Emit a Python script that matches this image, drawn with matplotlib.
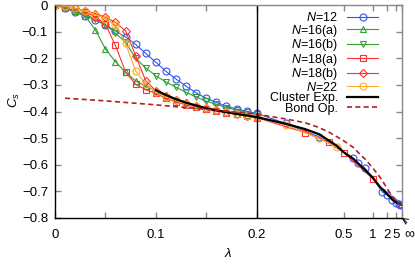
import numpy as np
import matplotlib
matplotlib.use("Agg")
from matplotlib import pyplot as plt

plt.rcParams["font.family"] = ["Liberation Sans", "DejaVu Sans"]
plt.rcParams["font.size"] = 9.5
plt.rcParams["mathtext.fontset"] = "custom"
plt.rcParams["mathtext.rm"] = "Liberation Sans"
plt.rcParams["mathtext.it"] = "Liberation Sans:italic"

LAM_INF = 1e6  # stands in for lambda = infinity

# N=12
lam_n12 = [0, 0.01, 0.02, 0.03, 0.04, 0.05, 0.06, 0.07, 0.08, 0.09, 0.10,
           0.11, 0.12, 0.13, 0.14, 0.15, 0.16, 0.17, 0.18, 0.19, 0.20,
           0.25, 0.35, 0.6, 0.67, 0.8, 1.5, 2, 3, 5, 10, 20, LAM_INF]
cs_n12 = [0, -0.012, -0.027, -0.041, -0.056, -0.075, -0.097, -0.120, -0.148,
          -0.182, -0.215, -0.249, -0.278, -0.305, -0.330, -0.350, -0.366,
          -0.380, -0.391, -0.399, -0.407,
          -0.445, -0.495, -0.576, -0.595, -0.614, -0.702, -0.714, -0.733,
          -0.744, -0.749, -0.751, -0.752]

lam_left = [0, 0.01, 0.02, 0.03, 0.04, 0.05, 0.06, 0.07, 0.08, 0.09, 0.10,
            0.11, 0.12, 0.13, 0.14, 0.15, 0.16, 0.17, 0.18, 0.19, 0.20]

# N=16(a)
cs_n16a = [0, -0.010, -0.022, -0.042, -0.093, -0.165, -0.213, -0.253, -0.285,
           -0.305, -0.322, -0.338, -0.352, -0.365, -0.376, -0.386, -0.394,
           -0.401, -0.408, -0.414, -0.420]
# N=16(b)
cs_n16b = [0, -0.010, -0.022, -0.036, -0.052, -0.075, -0.106, -0.140, -0.200,
           -0.236, -0.266, -0.289, -0.309, -0.328, -0.346, -0.361, -0.373,
           -0.385, -0.395, -0.403, -0.411]

# N=18(a)
lam_n18a = lam_left + [0.3, 0.4, 0.5, 1.0]
cs_n18a = [0, -0.004, -0.012, -0.025, -0.045, -0.072, -0.152, -0.252, -0.298,
           -0.318, -0.332, -0.350, -0.363, -0.375, -0.383, -0.390, -0.397,
           -0.404, -0.410, -0.416, -0.423,
           -0.479, -0.516, -0.554, -0.652]
# N=18(b)
cs_n18b = [0, -0.005, -0.013, -0.022, -0.032, -0.046, -0.065, -0.097, -0.190,
           -0.285, -0.322, -0.340, -0.355, -0.367, -0.378, -0.387, -0.395,
           -0.402, -0.409, -0.415, -0.421]

# N=22
lam_n22 = lam_left + [0.25, 0.35, 0.45]
cs_n22 = [0, -0.005, -0.013, -0.023, -0.036, -0.052, -0.075, -0.144, -0.248,
          -0.298, -0.325, -0.344, -0.358, -0.370, -0.380, -0.388, -0.396,
          -0.403, -0.409, -0.415, -0.421,
          -0.450, -0.501, -0.535]

# cluster expansion
lam_clu = [0.10, 0.11, 0.12, 0.13, 0.14, 0.15, 0.16, 0.18, 0.20, 0.25, 0.3,
           0.35, 0.4, 0.45, 0.5, 0.6, 0.76, 1.0, 1.33, 2, 3.4, 10, LAM_INF]
cs_clu = [-0.320, -0.338, -0.354, -0.367, -0.378, -0.388, -0.396, -0.409,
          -0.421, -0.446, -0.466, -0.485, -0.510, -0.530, -0.553, -0.578,
          -0.614, -0.648, -0.683, -0.710, -0.733, -0.747, -0.750]

# bond operator
lam_bond = [0.01, 0.05, 0.10, 0.15, 0.20, 0.25, 0.3, 0.35, 0.4, 0.5, 0.6,
            0.7, 0.8, 1.0, 1.3, 1.5, 2, 3, 5, 10, LAM_INF]
cs_bond = [-0.350, -0.360, -0.375, -0.392, -0.410, -0.428, -0.442, -0.460,
           -0.478, -0.510, -0.535, -0.562, -0.580, -0.612, -0.644, -0.660,
           -0.690, -0.718, -0.738, -0.748, -0.752]

x_ticks = [0, 0.1, 0.2, 0.5, 1, 2, 5, LAM_INF]
x_ticklabels = ["0", "0.1", "0.2", "0.5", "1", "2", "5", ""]
x_minor = [0.05, 0.15]
y_ticks = [0, -0.1, -0.2, -0.3, -0.4, -0.5, -0.6, -0.7, -0.8]

W = 0.1438  # width of the 1/lambda part, in units of the linear part


def fwd(x):
    x = np.asarray(x, dtype=float)
    with np.errstate(divide="ignore", invalid="ignore"):
        r = np.where(x <= 0.2, x, 0.2 + W * (1 - 0.2 / np.where(x == 0, 1, x)))
    return r


def inv(u):
    u = np.asarray(u, dtype=float)
    den = np.clip(1 - (u - 0.2) / W, 1e-9, None)
    return np.where(u <= 0.2, u, 0.2 / den)


fig = plt.figure(figsize=(4.15, 2.65), dpi=100)
ax = fig.add_axes([0.1325, 0.1774, 0.8355, 0.8036])
ax.set_xscale("function", functions=(fwd, inv))

blue = "#3355ee"
green = "#33a033"
red = "#ff3030"
orange = "#ffaa20"
ms = 5
lw = 0.8

ax.plot(lam_n12, cs_n12, "-o", color=blue, ms=ms, lw=lw, mfc="none", mew=0.8, label="$N$=12")
ax.plot(lam_left, cs_n16a, "-^", color=green, ms=ms, lw=lw, mfc="none", mew=0.8, label="$N$=16(a)")
ax.plot(lam_left, cs_n16b, "-v", color=green, ms=ms, lw=lw, mfc="none", mew=0.8, label="$N$=16(b)")
ax.plot(lam_n18a, cs_n18a, "-s", color=red, ms=ms, lw=lw, mfc="none", mew=0.8, label="$N$=18(a)")
ax.plot(lam_left, cs_n18b, "-D", color=red, ms=4, lw=lw, mfc="none", mew=0.8, label="$N$=18(b)")
ax.plot(lam_n22, cs_n22, "-o", color=orange, ms=ms, lw=lw, mfc="none", mew=0.8, label="$N$=22")
ax.plot(lam_clu, cs_clu, "-", color="black", lw=1.6, label="Cluster Exp.")
ax.plot(lam_bond, cs_bond, "--", color="#b02020", lw=1.2, dashes=(3, 2), label="Bond Op.")

ax.axvline(0.2, color="black", lw=1.0)

ax.set_xlim(0, LAM_INF)
ax.set_ylim(-0.8, 0)
ax.set_xticks(x_ticks)
ax.set_xticklabels(x_ticklabels)
ax.set_xticks(x_minor, minor=True)
ax.set_yticks(y_ticks)
ax.set_yticklabels(["0", "\u22120.1", "\u22120.2", "\u22120.3", "\u22120.4",
                    "\u22120.5", "\u22120.6", "\u22120.7", "\u22120.8"])
ax.tick_params(which="both", direction="in", top=True, right=True,
               color="#888888", length=4, width=1.0)
ax.tick_params(axis="x", pad=8)
ax.tick_params(axis="y", pad=5)

for s in ("top", "right"):
    ax.spines[s].set_color("#888888")
for s in ("left", "bottom"):
    ax.spines[s].set_color("black")
for s in ax.spines.values():
    s.set_linewidth(1.0)

ax.annotate("\u221e", xy=(1.0, 0.0), xycoords="axes fraction",
            xytext=(1.022, -0.075), textcoords="axes fraction",
            ha="center", va="center", fontsize=10,
            arrowprops=dict(arrowstyle="->", lw=0.7, color="black",
                            connectionstyle="arc3,rad=0.3", shrinkA=1, shrinkB=0))

ax.set_xlabel("\u03bb", style="italic", labelpad=5)
ax.set_ylabel("$C_s$")
ax.yaxis.set_label_coords(-0.095, 0.554)

ax.legend(loc="upper right", bbox_to_anchor=(0.95, 1.0), frameon=False,
          markerfirst=False, numpoints=1, handlelength=2.5, handletextpad=0.7,
          labelspacing=-0.12, borderaxespad=0.15, borderpad=0.35, fontsize=9)

fig.savefig("out.png", dpi=100)
